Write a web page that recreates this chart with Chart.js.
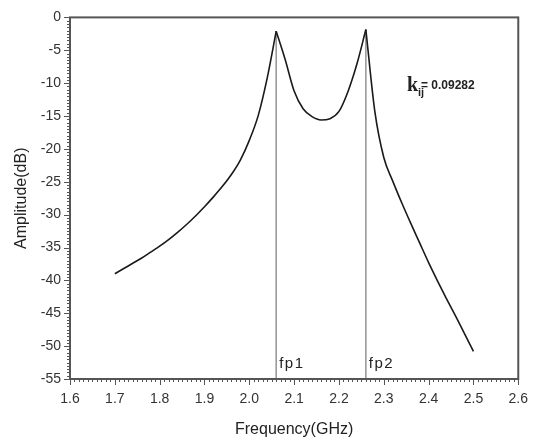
<!DOCTYPE html>
<html>
<head>
<meta charset="utf-8">
<script src="https://cdn.jsdelivr.net/npm/chart.js@4.4.1/dist/chart.umd.min.js"></script>
<style>
    html, body { margin: 0; padding: 0; background: #fff; }
    #grafico { display: block; }
</style>
</head>
<body>
<canvas id="grafico" width="540" height="443"></canvas>
<script>
// Dados
const frequencias = [1.70, 1.72, 1.74, 1.76, 1.78, 1.80, 1.82, 1.84, 1.86, 1.88,
    1.90, 1.92, 1.94, 1.96, 1.98, 2.00, 2.02, 2.04, 2.06, 2.08,
    2.10, 2.12, 2.14, 2.16, 2.18, 2.20, 2.22, 2.24, 2.26, 2.28,
    2.30, 2.32, 2.34, 2.36, 2.38, 2.40, 2.42, 2.44, 2.46, 2.48, 2.50];
const amplitudes = [-39.0, -38.2, -37.4, -36.6, -35.7, -34.8, -33.8, -32.7, -31.5, -30.2,
    -28.8, -27.3, -25.7, -23.9, -21.7, -18.7, -14.9, -9.2, -2.1, -6.4,
    -11.2, -13.9, -15.1, -15.6, -15.4, -14.3, -11.3, -7.1, -1.85, -14.3,
    -21.3, -24.9, -28.2, -31.3, -34.3, -37.3, -40.1, -42.8, -45.4, -48.1, -50.8];

// Frequências de pico (linhas verticais)
const picosFreq = [2.06, 2.26];
const picosAmp = [-2.1, -1.85];
const picosRotulo = ['fp1', 'fp2'];

const ticksX = [1.6, 1.7, 1.8, 1.9, 2.0, 2.1, 2.2, 2.3, 2.4, 2.5, 2.6];
const ticksY = [0, -5, -10, -15, -20, -25, -30, -35, -40, -45, -50, -55];

const fonte = '"Liberation Sans", Arial, sans-serif';

const pontos = frequencias.map((f, i) => ({ x: f, y: amplitudes[i] }));

// separa a curva nos picos para manter as pontas afiadas
const iPico1 = frequencias.indexOf(picosFreq[0]);
const iPico2 = frequencias.indexOf(picosFreq[1]);
const trechos = [
    pontos.slice(0, iPico1 + 1),
    pontos.slice(iPico1, iPico2 + 1),
    pontos.slice(iPico2)
];

const curvas = trechos.map(t => ({
    data: t,
    borderColor: '#1a1a1a',
    borderWidth: 1.6,
    pointRadius: 0,
    cubicInterpolationMode: 'monotone'
}));

const linhasPico = picosFreq.map((f, i) => ({
    data: [{ x: f, y: picosAmp[i] }, { x: f, y: -55 }],
    borderColor: '#9a9a9a',
    borderWidth: 1.6,
    pointRadius: 0,
    tension: 0
}));

// desenha moldura, ticks menores e textos
const extras = {
    id: 'extras',
    afterDraw(chart) {
        const ctx = chart.ctx;
        const area = chart.chartArea;
        const sx = chart.scales.x;
        const sy = chart.scales.y;

        ctx.save();
        ctx.strokeStyle = '#555';

        // ticks menores no eixo x
        ctx.beginPath();
        for (let i = 0; i <= 100; i++) {
            const px = Math.round(sx.getPixelForValue(1.6 + i * 0.01)) + 0.5;
            const tam = (i % 10 === 0) ? 6 : 3;
            ctx.moveTo(px, area.bottom);
            ctx.lineTo(px, area.bottom + tam);
        }
        // ticks menores no eixo y
        for (let i = 0; i <= 110; i++) {
            const py = Math.round(sy.getPixelForValue(-i * 0.5)) + 0.5;
            const tam = (i % 10 === 0) ? 6 : 3;
            ctx.moveTo(area.left, py);
            ctx.lineTo(area.left - tam, py);
        }
        ctx.lineWidth = 1;
        ctx.stroke();

        // moldura
        ctx.lineWidth = 2;
        ctx.strokeRect(area.left, area.top, area.right - area.left, area.bottom - area.top);

        // rótulos fp1 / fp2
        ctx.fillStyle = '#222';
        ctx.font = '15px ' + fonte;
        ctx.letterSpacing = '1.5px';
        ctx.textBaseline = 'alphabetic';
        ctx.textAlign = 'left';
        picosFreq.forEach((f, i) => {
            ctx.fillText(picosRotulo[i], sx.getPixelForValue(f) + 3, area.bottom - 11);
        });
        ctx.letterSpacing = '0px';

        // k_ij = 0.09282
        ctx.font = 'bold 20px "Liberation Serif", serif';
        ctx.fillText('k', 407, 91);
        ctx.font = 'bold 11px ' + fonte;
        ctx.fillText('ij', 418, 96);
        ctx.font = 'bold 12px ' + fonte;
        ctx.fillText('= 0.09282', 421, 89);
        ctx.restore();
    }
};

const ctx = document.getElementById('grafico').getContext('2d');
const chart = new Chart(ctx, {
    type: 'line',
    data: {
        datasets: curvas.concat(linhasPico)
    },
    options: {
        responsive: false,
        animation: false,
        layout: { padding: { top: 13, right: 17, left: 0, bottom: 0 } },
        plugins: {
            legend: { display: false },
            tooltip: { enabled: false }
        },
        scales: {
            x: {
                type: 'linear',
                min: 1.6,
                max: 2.6,
                afterBuildTicks: (escala) => {
                    escala.ticks = ticksX.map(v => ({ value: v }));
                },
                afterFit: (escala) => { escala.height = 64; },
                grid: { display: false, drawTicks: false },
                border: { display: false },
                ticks: {
                    padding: 12,
                    color: '#333',
                    font: { family: fonte, size: 14 },
                    callback: (v) => v.toFixed(1)
                },
                title: {
                    display: true,
                    text: 'Frequency(GHz)',
                    color: '#222',
                    font: { family: fonte, size: 16 },
                    padding: { top: 6 }
                }
            },
            y: {
                type: 'linear',
                min: -55,
                max: 0,
                afterBuildTicks: (escala) => {
                    escala.ticks = ticksY.map(v => ({ value: v }));
                },
                afterFit: (escala) => { escala.width = 70; },
                grid: { display: false, drawTicks: false },
                border: { display: false },
                ticks: {
                    padding: 9,
                    color: '#333',
                    font: { family: fonte, size: 14 },
                    callback: (v) => String(v)
                },
                title: {
                    display: true,
                    text: 'Amplitude(dB)',
                    color: '#222',
                    font: { family: fonte, size: 16 },
                    padding: { top: 12, bottom: 0 }
                }
            }
        }
    },
    plugins: [extras]
});
</script>
</body>
</html>
